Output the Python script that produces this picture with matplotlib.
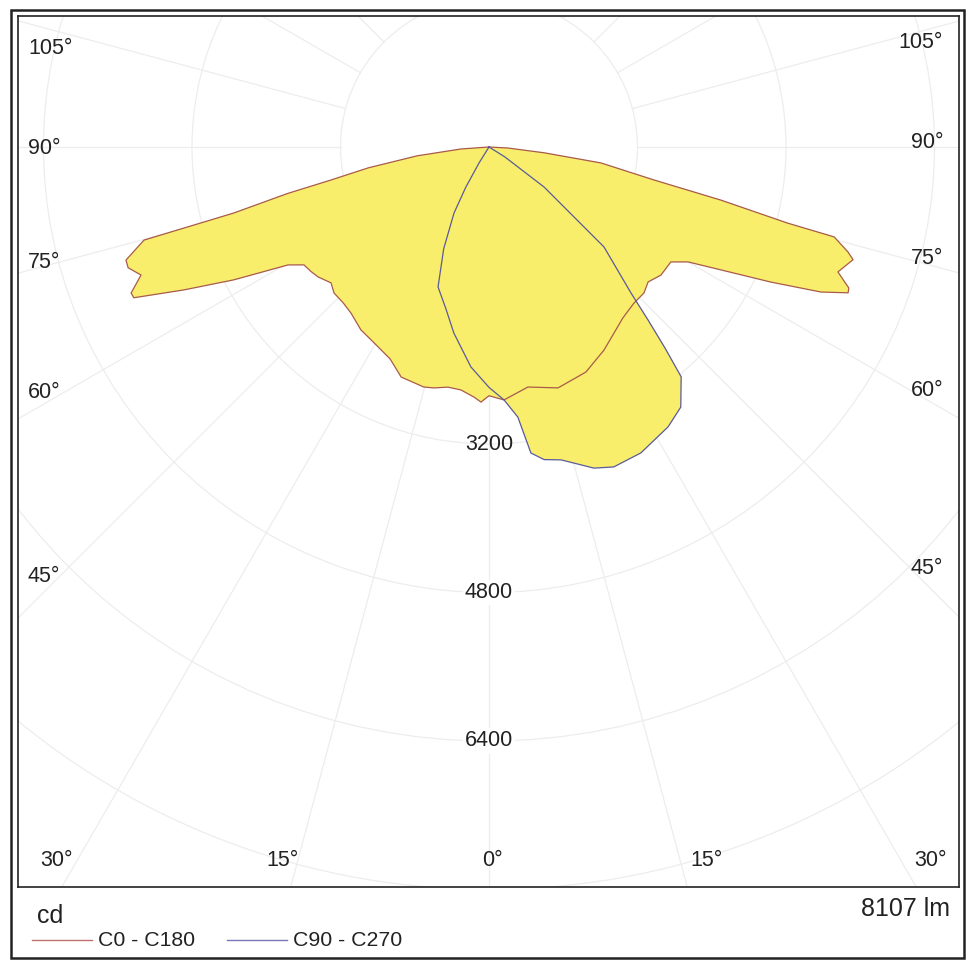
import numpy as np
import matplotlib.pyplot as plt
from matplotlib.patches import Circle, Rectangle

plt.rcParams['font.family'] = ['Liberation Sans', 'DejaVu Sans']

# luminous intensity (cd) against gamma angle (deg from nadir)
c0_gamma = [0, 3.4, 9.2, 16, 23.3, 29.5, 33.9, 38, 42.9, 46.7, 49.7, 53.3, 57.7, 60, 62.1, 64.4,
            66.4, 67.9, 68.6, 70.3, 72.8, 73.7, 75.4, 75.7, 77.1, 78.7, 81.9, 84, 87, 90]
c0_cd = [2680, 2730, 2620, 2700, 2640, 2515, 2415, 2340, 2295, 2294, 2248, 2310, 2318, 2476, 2832, 3369,
         3903, 4176, 4164, 3993, 4106, 4030, 3843, 3323, 2564, 1813, 1218, 600, 200, 0]

c180_gamma = [0, 1.8, 3.4, 6.6, 9.7, 12.9, 15.2, 20.9, 25, 31.4, 35, 39.7, 43, 46.7, 49.3, 52.8, 55,
              57.5, 59.6, 62.5, 64.9, 67, 67.8, 69.8, 71.5, 72.7, 74.9, 75.5, 77, 78.2, 80.2, 83, 86, 90]
c180_cd = [2680, 2750, 2700, 2635, 2625, 2663, 2680, 2653, 2520, 2436, 2406, 2327, 2300, 2294, 2245, 2314, 2340,
           2364, 2511, 3100, 3630, 4157, 4165, 3995, 4100, 4097, 3850, 2840, 2230, 1740, 1320, 780, 300, 0]

c90_gamma = [0, 3.4, 6.1, 7.8, 10, 13, 18.1, 21.3, 26.4, 32.6, 36.4, 39.9, 41.2, 42.6, 44.2, 49, 54, 58, 62, 90]
c90_cd = [2590, 2730, 2927, 3328, 3420, 3460, 3640, 3700, 3680, 3580, 3482, 3228, 2880, 2531, 2195, 1642, 733, 200, 0, 0]

c270_gamma = [0, 4.7, 10.7, 15, 20, 24, 27.9, 30, 32, 35, 90]
c270_cd = [2590, 2378, 2040, 1800, 1605, 1200, 806, 500, 200, 0, 0]

rings = [1600, 3200, 4800, 6400, 8000, 9600]
ring_labels = ['3200', '4800', '6400']
spoke_step = 15
flux_text = '8107 lm'
unit_text = 'cd'
legend_names = ['C0 - C180', 'C90 - C270']

W, H = 966, 960
fig = plt.figure(figsize=(W / 100, H / 100), dpi=100)


def fx(x):
    return x / W


def fy(y):
    return 1 - y / H


# plot box in pixels and the luminaire position inside it
box_l, box_r, box_t, box_b = 18, 959, 16, 887
cx, cy = 489, 147
s = 1600 / 148.5  # cd per pixel

ax = fig.add_axes([fx(box_l), fy(box_b), (box_r - box_l) / W, (box_b - box_t) / H])
ax.set_xlim((box_l - cx) * s, (box_r - cx) * s)
ax.set_ylim((cy - box_b) * s, (cy - box_t) * s)
ax.set_xticks([])
ax.set_yticks([])
for sp in ax.spines.values():
    sp.set_linewidth(1.2)
    sp.set_color('#222222')


def to_xy(gamma, cd, side):
    g = np.radians(np.asarray(gamma, dtype=float))
    r = np.asarray(cd, dtype=float)
    return side * r * np.sin(g), -r * np.cos(g)


def plane_pair(g_right, i_right, g_left, i_left):
    xl, yl = to_xy(g_left, i_left, -1)
    xr, yr = to_xy(g_right, i_right, 1)
    return np.concatenate([xl[::-1], xr]), np.concatenate([yl[::-1], yr])


# grid
grid_col = '#ededed'
for r in rings:
    ax.add_patch(Circle((0, 0), r, fill=False, ec=grid_col, lw=0.9, zorder=1))
for a in np.arange(0, 360, spoke_step):
    t = np.radians(a)
    ax.plot([1600 * np.sin(t), 12000 * np.sin(t)], [-1600 * np.cos(t), -12000 * np.cos(t)],
            color=grid_col, lw=0.9, zorder=1)

x1, y1 = plane_pair(c0_gamma, c0_cd, c180_gamma, c180_cd)
x2, y2 = plane_pair(c90_gamma, c90_cd, c270_gamma, c270_cd)

fill_col = '#f8ee6c'
ax.fill(x1, y1, color=fill_col, lw=0, zorder=2)
ax.fill(x2, y2, color=fill_col, lw=0, zorder=2)
ax.plot(x1, y1, color='#a85a4a', lw=0.9, zorder=3)
ax.plot(x2, y2, color='#5a5a9a', lw=0.9, zorder=3)

for lab in ring_labels:
    ax.text(0, -float(lab), lab, ha='center', va='center', fontsize=15.5, color='#222222', zorder=4,
            bbox=dict(fc='white', ec='none', pad=1.5) if float(lab) > 3200 else None)

# angle labels round the box
txt = dict(fontsize=15.5, color='#222222')
left_labels = [('105°', 49), ('90°', 148), ('75°', 263), ('60°', 392), ('45°', 577)]
right_labels = [('105°', 43), ('90°', 143), ('75°', 258), ('60°', 390), ('45°', 569)]
for t, y in left_labels:
    fig.text(fx(28), fy(y), t, ha='left', va='center', **txt)
for t, y in right_labels:
    fig.text(fx(943), fy(y), t, ha='right', va='center', **txt)
bottom_labels = [('30°', 56), ('15°', 283), ('0°', 492), ('15°', 707), ('30°', 930)]
for t, x in bottom_labels:
    fig.text(fx(x), fy(861), t, ha='center', va='center', **txt)

# footer
fig.text(fx(37), fy(916), unit_text, ha='left', va='center', fontsize=18, color='#222222')
fig.text(fx(950), fy(909), flux_text, ha='right', va='center', fontsize=18, color='#222222')
leg_cols = ['#c07070', '#7878b8']
leg_x = [(32, 92), (227, 287)]
for (a, b), c, name in zip(leg_x, leg_cols, legend_names):
    fig.add_artist(plt.Line2D([fx(a), fx(b)], [fy(940), fy(940)], color=c, lw=1.0))
    fig.text(fx(b + 6), fy(940), name, ha='left', va='center', fontsize=15.3, color='#222222')

# outer frame
fig.add_artist(Rectangle((fx(11), fy(958)), (964 - 11) / W, (958 - 10) / H, fill=False,
                         ec='#222222', lw=1.8, transform=fig.transFigure))

fig.savefig('out.png', dpi=100)
